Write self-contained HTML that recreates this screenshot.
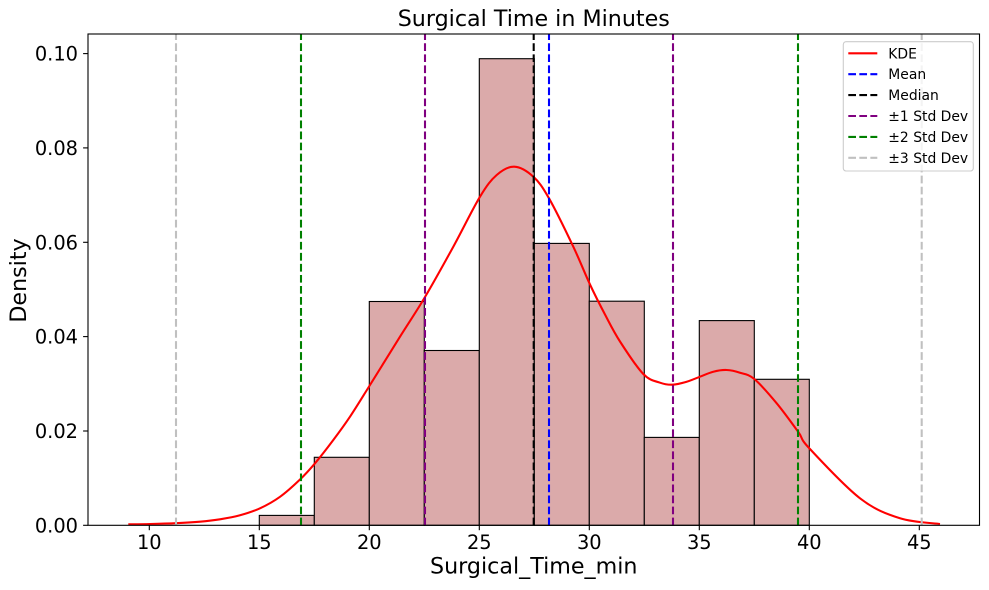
<!DOCTYPE html>
<html>
<head>
<meta charset="utf-8">
<style>
html,body{margin:0;padding:0;background:#fff;}
svg{display:block;}
text{font-family:"DejaVu Sans","Liberation Sans",sans-serif;fill:#000;}
</style>
</head>
<body>
<svg width="989" height="590" viewBox="0 0 989 590" xmlns="http://www.w3.org/2000/svg">
<rect x="0" y="0" width="989" height="590" fill="#fff"/>
<!-- histogram bars -->
<g fill="#dbaaaa" stroke="#000" stroke-width="1.1">
<rect x="259.3" y="515.4" width="55" height="9.9"/>
<rect x="314.3" y="457.3" width="55" height="68"/>
<rect x="369.3" y="301.5" width="55" height="223.8"/>
<rect x="424.3" y="350.5" width="55" height="174.8"/>
<rect x="479.3" y="58.7" width="55" height="466.6"/>
<rect x="534.3" y="243.4" width="55" height="281.9"/>
<rect x="589.3" y="301.2" width="55" height="224.1"/>
<rect x="644.3" y="437.4" width="55" height="87.9"/>
<rect x="699.3" y="320.6" width="55" height="204.7"/>
<rect x="754.3" y="379.3" width="55" height="146"/>
</g>
<!-- KDE -->
<path id="kde" fill="none" stroke="#ff0000" stroke-width="2.08" stroke-linejoin="round" d="M128.3,524.3 L150,524 L176,523.2 L200,521.7 L220,519.3 L240,515.3 L260,508.3 L280,496.8 L300,479.5 L315,463.3 L333.3,440 L350,416.7 L370,385 L400,336.7 L425,297 L453.3,246.7 L480,196.7 L496.7,175 L514.3,166.7 L533.3,176.7 L549,198.3 L573.3,246.7 L590,284.5 L605,314.5 L620,341.5 L643.3,374 L660,382.7 L672.7,384.7 L686.7,381.7 L700,376.7 L713.3,371.7 L726.7,370 L740,372.7 L754.3,379 L776.7,403.3 L798.3,432 L809.3,448.3 L860,498.3 L900,518.3 L940,524"/>
<!-- vertical lines -->
<g stroke-width="2.08" stroke-dasharray="7.7 3.33" fill="none">
<line x1="549" y1="525.3" x2="549" y2="34" stroke="#0000ff"/>
<line x1="533.7" y1="525.3" x2="533.7" y2="34" stroke="#000000"/>
<line x1="425" y1="525.3" x2="425" y2="34" stroke="#800080"/>
<line x1="673" y1="525.3" x2="673" y2="34" stroke="#800080"/>
<line x1="301" y1="525.3" x2="301" y2="34" stroke="#008000"/>
<line x1="798" y1="525.3" x2="798" y2="34" stroke="#008000"/>
<line x1="176" y1="525.3" x2="176" y2="34" stroke="#c0c0c0"/>
<line x1="921.7" y1="525.3" x2="921.7" y2="34" stroke="#c0c0c0"/>
</g>
<!-- axes frame -->
<rect x="88" y="34" width="891.5" height="491.3" fill="none" stroke="#000" stroke-width="1.1"/>
<!-- y ticks -->
<g stroke="#000" stroke-width="1.1">
<line x1="83.1" y1="525.3" x2="88" y2="525.3"/>
<line x1="83.1" y1="431" x2="88" y2="431"/>
<line x1="83.1" y1="336.6" x2="88" y2="336.6"/>
<line x1="83.1" y1="242.3" x2="88" y2="242.3"/>
<line x1="83.1" y1="147.9" x2="88" y2="147.9"/>
<line x1="83.1" y1="53.6" x2="88" y2="53.6"/>
</g>
<g font-size="19.4" text-anchor="end">
<text x="78" y="532.3">0.00</text>
<text x="78" y="438">0.02</text>
<text x="78" y="343.6">0.04</text>
<text x="78" y="249.3">0.06</text>
<text x="78" y="154.9">0.08</text>
<text x="78" y="60.6">0.10</text>
</g>
<!-- x ticks -->
<g stroke="#000" stroke-width="1.1">
<line x1="149.3" y1="525.3" x2="149.3" y2="530.2"/>
<line x1="259.3" y1="525.3" x2="259.3" y2="530.2"/>
<line x1="369.3" y1="525.3" x2="369.3" y2="530.2"/>
<line x1="479.3" y1="525.3" x2="479.3" y2="530.2"/>
<line x1="589.3" y1="525.3" x2="589.3" y2="530.2"/>
<line x1="699.3" y1="525.3" x2="699.3" y2="530.2"/>
<line x1="809.3" y1="525.3" x2="809.3" y2="530.2"/>
<line x1="919.3" y1="525.3" x2="919.3" y2="530.2"/>
</g>
<g font-size="19.4" text-anchor="middle">
<text x="149.3" y="549">10</text>
<text x="259.3" y="549">15</text>
<text x="369.3" y="549">20</text>
<text x="479.3" y="549">25</text>
<text x="589.3" y="549">30</text>
<text x="699.3" y="549">35</text>
<text x="809.3" y="549">40</text>
<text x="919.3" y="549">45</text>
</g>
<!-- labels -->
<text x="533.75" y="26" font-size="22.2" text-anchor="middle">Surgical Time in Minutes</text>
<text x="533.75" y="573.3" font-size="22.2" text-anchor="middle">Surgical_Time_min</text>
<text transform="translate(25.8,280.5) rotate(-90)" font-size="22.2" text-anchor="middle">Density</text>
<!-- legend -->
<rect x="843.3" y="41.7" width="130" height="129.3" rx="2.8" ry="2.8" fill="#fff" fill-opacity="0.8" stroke="#cccccc" stroke-width="1.1"/>
<g stroke-width="2.08" fill="none">
<line x1="848.3" y1="53.3" x2="877.3" y2="53.3" stroke="#ff0000"/>
<line x1="848.3" y1="74.2" x2="877.3" y2="74.2" stroke="#0000ff" stroke-dasharray="7.7 3.33"/>
<line x1="848.3" y1="95.1" x2="877.3" y2="95.1" stroke="#000000" stroke-dasharray="7.7 3.33"/>
<line x1="848.3" y1="116" x2="877.3" y2="116" stroke="#800080" stroke-dasharray="7.7 3.33"/>
<line x1="848.3" y1="136.9" x2="877.3" y2="136.9" stroke="#008000" stroke-dasharray="7.7 3.33"/>
<line x1="848.3" y1="157.8" x2="877.3" y2="157.8" stroke="#c0c0c0" stroke-dasharray="7.7 3.33"/>
</g>
<g font-size="13.9">
<text x="888.3" y="58.3">KDE</text>
<text x="888.3" y="79.2">Mean</text>
<text x="888.3" y="100.1">Median</text>
<text x="888.3" y="121">±1 Std Dev</text>
<text x="888.3" y="141.9">±2 Std Dev</text>
<text x="888.3" y="162.8">±3 Std Dev</text>
</g>
</svg>
<script>
(function(){
  var p=document.getElementById('kde');
  var d=p.getAttribute('d');
  var nums=d.match(/-?\d+(\.\d+)?/g).map(Number);
  var pts=[];
  for(var i=0;i<nums.length;i+=2)pts.push([nums[i],nums[i+1]]);
  var s='M'+pts[0][0]+','+pts[0][1];
  for(var i=0;i<pts.length-1;i++){
    var p0=pts[i>0?i-1:i],p1=pts[i],p2=pts[i+1],p3=pts[i+2<pts.length?i+2:i+1];
    var c1x=p1[0]+(p2[0]-p0[0])/6,c1y=p1[1]+(p2[1]-p0[1])/6;
    var c2x=p2[0]-(p3[0]-p1[0])/6,c2y=p2[1]-(p3[1]-p1[1])/6;
    s+=' C'+c1x.toFixed(2)+','+c1y.toFixed(2)+' '+c2x.toFixed(2)+','+c2y.toFixed(2)+' '+p2[0]+','+p2[1];
  }
  p.setAttribute('d',s);
})();
</script>
</body>
</html>
